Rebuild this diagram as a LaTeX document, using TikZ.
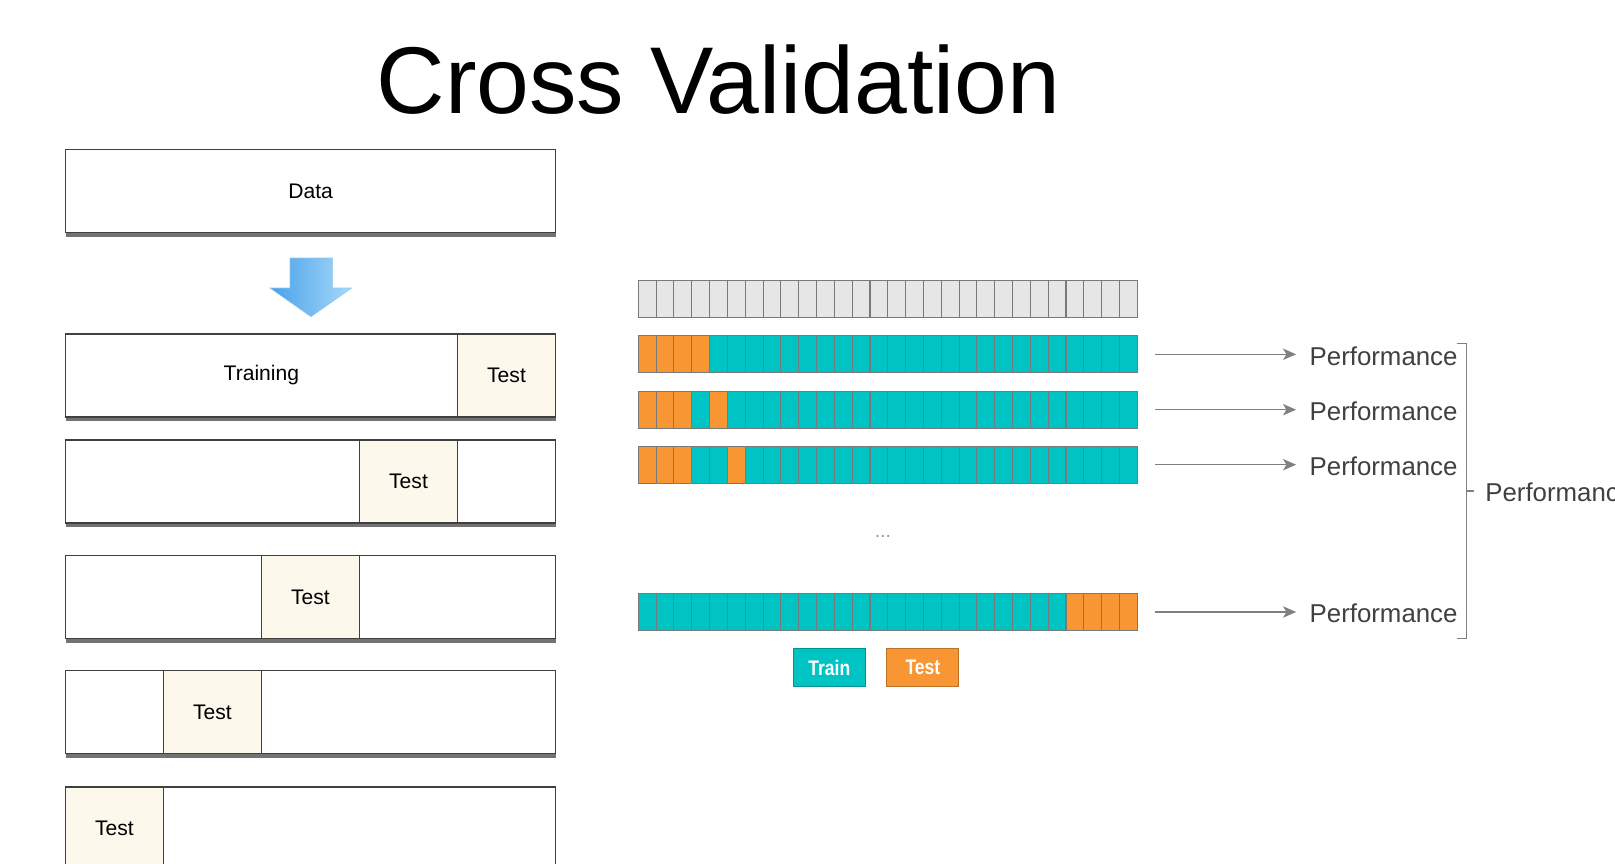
\documentclass[tikz,border=0pt]{standalone}
\usepackage{fontspec}
\setmainfont{Liberation Sans}
\usetikzlibrary{%
	arrows.meta,%
	shadows,%
	positioning,%
}
\definecolor{cteal}{RGB}{0, 196, 196}
\definecolor{corange}{RGB}{247, 150, 50}
\definecolor{ccream}{RGB}{253, 248, 236}
\definecolor{cgrey}{RGB}{230, 230, 230}
\definecolor{cedge}{RGB}{118, 122, 122}
\definecolor{cline}{RGB}{128, 128, 128}
\definecolor{ctext}{RGB}{64, 64, 64}
\definecolor{cbluedark}{RGB}{72, 162, 234}
\definecolor{cbluelight}{RGB}{168, 216, 248}
\tikzset{
	>={Stealth[length=7.5pt,width=6.5pt,inset=2pt]},%
	foldbox/.style={%
			draw=black!75,%
			line width=0.8pt,%
			fill=white,%
			minimum width=9.8cm,%
			minimum height=1.66cm,%
			drop shadow={shadow xshift=0pt, shadow yshift=-2.5pt, fill=black, opacity=0.55},%
			font={\fontsize{12}{14}\selectfont}},%
	testcell/.style={%
			draw=black!75,%
			line width=0.8pt,%
			fill=ccream,%
			minimum width=1.96cm,%
			minimum height=1.66cm,%
			font={\fontsize{12}{14}\selectfont}},%
	gridcell/.style={%
			draw=cedge,%
			line width=0.6pt,%
			inner sep=0,%
			minimum width=0.3564cm,%
			minimum height=0.74cm},%
	perfnode/.style={%
			text=ctext,%
			inner sep=0,%
			anchor=west,%
			font={\fontsize{14.7}{16}\selectfont}},%
	legendnode/.style={%
			text=white,%
			inner sep=0,%
			line width=0.5pt,%
			minimum width=1.44cm,%
			minimum height=0.77cm,%
			font={\bfseries\fontsize{12}{14}\selectfont}},%
	bracket/.style={draw=cline, line width=0.6pt},%
}

\begin{document}
\begin{tikzpicture}[x=0.02cm, y=-0.02cm]
	\useasboundingbox (0,0) rectangle (1615,863);
	\clip (0,0) rectangle (1615,863);

	\node[font={\fontsize{54}{60}\selectfont}, anchor=base] (title) at (718.5,113) {Cross Validation};

	% data and the five folds
	\node[foldbox] (data) at (310.6,191) {Data};
	\shade[left color=cbluedark, right color=cbluelight, draw=cbluedark!60, line width=0.3pt]
		(290,258) -- (332.7,258) -- (332.7,288) -- (351.7,288) -- (311,316.7) -- (270,288) -- (290,288) -- cycle;

	\foreach \y/\k [count=\i] in {375.5/5, 481.3/4, 597/3, 712/2, 828.5/1} {
		\node[foldbox] (fold\i) at (310.6,\y) {};
		\node[testcell] (test\i) at ({16.5+98*\k},\y) {Test};
	}
	\node[font={\fontsize{12}{14}\selectfont}] (training) at (261.4,375.5) {Training};

	% k-fold grid
	\foreach \row/\y/\tests in {0/299.2/{0}, 1/354.3/{1,2,3,4}, 2/409.7/{1,2,3,5}, 3/464.7/{1,2,3,6}, 4/612/{25,26,27,28}} {
		\foreach \col in {1,...,28} {
			\ifnum\row=0 \xdef\cellfill{cgrey}\else\xdef\cellfill{cteal}\fi
			\foreach \tc in \tests {\ifnum\col=\tc\relax\xdef\cellfill{corange}\fi}
			\node[gridcell, fill=\cellfill] (cell-\row-\col) at ({629.39+17.82*\col},\y) {};
		}
	}
	\node[text=black!40, font={\fontsize{11}{12}\selectfont}] (dots) at (883,536) {...};

	\foreach \row/\y in {1/354.3, 2/409.7, 3/464.7, 4/612} {
		\node[perfnode] (perf\row) at (1309.3,\y+1.5) {Performance};
		\draw[->, draw=cline, line width=0.6pt] ([xshift=10pt]cell-\row-28.east) -- ([xshift=-7.5pt]cell-\row-28.east -| perf\row.west);
	}

	\draw[bracket] (1456.7,343.3) -| (1466.7,638.3) -- (1456.7,638.3);
	\node[perfnode] (total) at (1485,492.5) {Performance};
	\draw[bracket] (1466.7,491) -- ([xshift=-6pt]total.west |- 0,491);

	% legend
	\node[legendnode, fill=cteal, draw=cteal!75!black] (trainkey) at (829.3,667.5) {\scalebox{0.83}[1]{Train}};
	\node[legendnode, fill=corange, draw=corange!75!black, right=0.414cm of trainkey] (testkey) {\scalebox{0.83}[1]{Test}};
\end{tikzpicture}
\end{document}
